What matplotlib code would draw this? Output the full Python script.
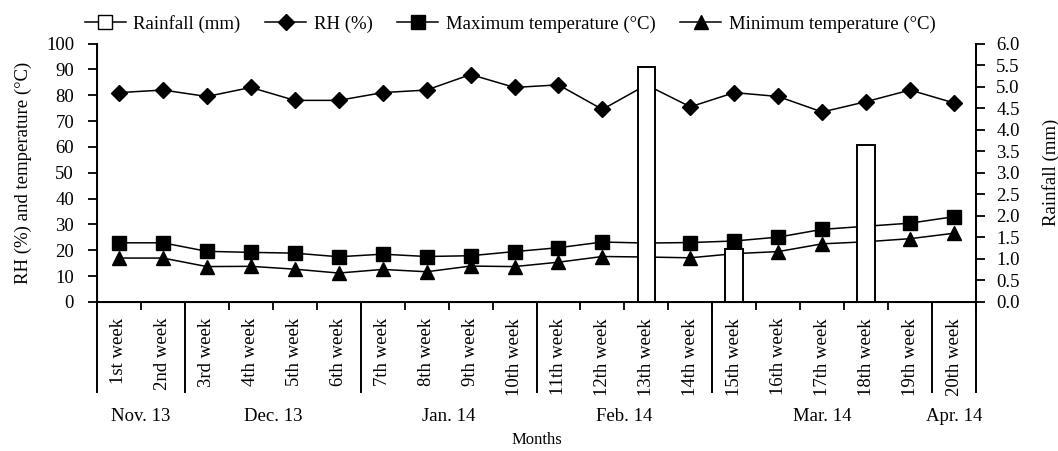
import matplotlib
matplotlib.use("Agg")
import matplotlib.pyplot as plt
from matplotlib.lines import Line2D
import matplotlib.transforms as mtransforms
import numpy as np

plt.rcParams['font.family'] = ['Liberation Serif', 'DejaVu Serif']
plt.rcParams['font.size'] = 13.5

weeks = ['1st week', '2nd week', '3rd week', '4th week', '5th week', '6th week',
         '7th week', '8th week', '9th week', '10th week', '11th week', '12th week',
         '13th week', '14th week', '15th week', '16th week', '17th week', '18th week',
         '19th week', '20th week']
rh = [81, 82, 79.5, 83, 78, 78, 81, 82, 88, 83, 84, 74.5, 84, 75.5, 81, 79.5, 73.5, 77.5, 82, 77]
tmax = [22.9, 22.9, 19.6, 19.2, 18.9, 17.5, 18.5, 17.6, 17.9, 19.5, 21.0, 23.2, 22.8, 23.0,
        23.6, 25.1, 28.1, 29.3, 30.5, 33.0]
tmin = [17.0, 17.0, 13.7, 13.8, 12.7, 11.2, 12.6, 11.7, 13.9, 13.7, 15.4, 17.6, 17.4, 17.1,
        18.7, 19.5, 22.5, 23.3, 24.5, 26.6]
rain = [0, 0, 0, 0, 0, 0, 0, 0, 0, 0, 0, 0, 5.45, 0, 1.22, 0, 0, 3.65, 0, 0]
months = ['Nov. 13', 'Dec. 13', 'Jan. 14', 'Feb. 14', 'Mar. 14', 'Apr. 14']
month_weeks = [2, 4, 4, 4, 5, 1]

W, H = 1058, 451
fig = plt.figure(figsize=(W / 100, H / 100), dpi=100)
ax_left, ax_right, ax_top, ax_bot = 97, 976, 43.5, 302
ax = fig.add_axes([ax_left / W, 1 - ax_bot / H, (ax_right - ax_left) / W, (ax_bot - ax_top) / H])
x = np.arange(len(weeks))

lw = 1.1
ax.plot(x, rh, color='black', lw=lw, marker='D', ms=8.5, mfc='black', mec='black', zorder=3)
ax.plot(x, tmax, color='black', lw=lw, marker='s', ms=9.5, mfc='black', mec='black', zorder=3)
ax.plot(x, tmin, color='black', lw=lw, marker='^', ms=10, mfc='black', mec='black', zorder=3)

ax.set_xlim(-0.5, len(weeks) - 0.5)
ax.set_ylim(0, 100)
ax.set_yticks(np.arange(0, 101, 10))
ax.set_xticks(x)
ax.set_xticklabels(weeks, rotation=90, va='top', ha='center')
ax.tick_params(axis='x', which='major', length=0, pad=11.5)
ax.set_xticks(np.arange(-0.5, len(weeks), 1), minor=True)
ax.tick_params(axis='x', which='minor', length=6, width=1.3, direction='out')
ax.tick_params(axis='y', length=6.5, width=1.3, pad=10, direction='out')
for s in ['left', 'bottom', 'right']:
    ax.spines[s].set_linewidth(1.4)
ax.spines['top'].set_visible(False)
ax.set_ylabel('RH (%) and temperature (°C)', labelpad=10)

# month separators and labels
trans = mtransforms.blended_transform_factory(ax.transData, ax.transAxes)
y_low = -(392 - ax_bot) / (ax_bot - ax_top)
bounds = np.concatenate([[0], np.cumsum(month_weeks)]) - 0.5
for b in bounds:
    ax.plot([b, b], [0, y_low], transform=trans, color='black', lw=1.4, clip_on=False)
y_month = -(416.5 - ax_bot) / (ax_bot - ax_top)
for i, m in enumerate(months):
    c = (bounds[i] + bounds[i + 1]) / 2
    ax.text(c, y_month, m, transform=trans, ha='center', va='center')
y_lab = -(440 - ax_bot) / (ax_bot - ax_top)
ax.text(0.5, y_lab, 'Months', transform=ax.transAxes, ha='center', va='center', fontsize=12)

ax2 = ax.twinx()
ax2.bar(x, rain, width=0.4, color='white', edgecolor='black', linewidth=1.4, zorder=4)
ax2.set_ylim(0, 6)
ax2.set_yticks(np.arange(0, 6.01, 0.5))
ax2.set_yticklabels([f'{v:.1f}' for v in np.arange(0, 6.01, 0.5)])
ax2.tick_params(axis='y', length=6.5, width=1.3, pad=8, direction='out')
ax2.spines['top'].set_visible(False)
ax2.spines['right'].set_linewidth(1.4)
ax2.set_ylabel('Rainfall (mm)', labelpad=16)

handles = [
    Line2D([], [], color='black', lw=lw, marker='s', ms=9.5, mfc='white', mec='black'),
    Line2D([], [], color='black', lw=lw, marker='D', ms=8.5, mfc='black', mec='black'),
    Line2D([], [], color='black', lw=lw, marker='s', ms=9.5, mfc='black', mec='black'),
    Line2D([], [], color='black', lw=lw, marker='^', ms=10, mfc='black', mec='black'),
]
labels = ['Rainfall (mm)', 'RH (%)', 'Maximum temperature (°C)', 'Minimum temperature (°C)']
fig.legend(handles, labels, loc='center', bbox_to_anchor=(510 / W, 1 - 24 / H), ncol=4,
           frameon=False, handlelength=2.2, handletextpad=0.4, columnspacing=1.3,
           borderpad=0, borderaxespad=0)

fig.savefig('out.png', dpi=100)
